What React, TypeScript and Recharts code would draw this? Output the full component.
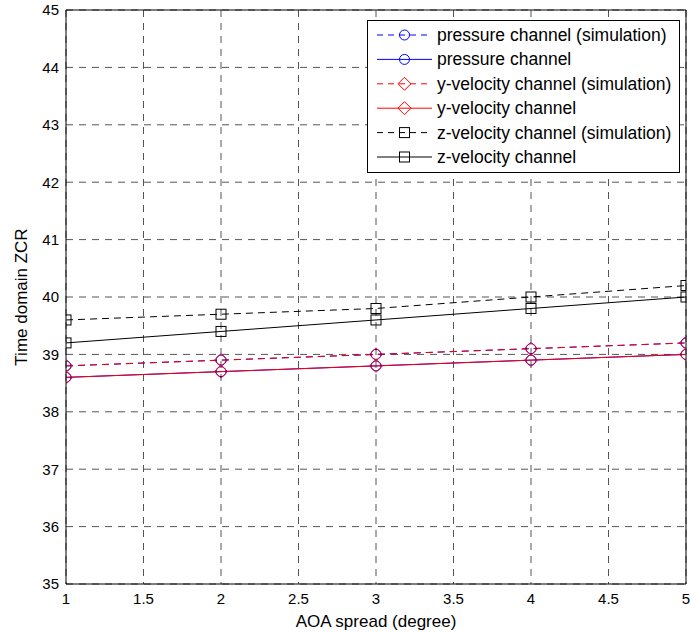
import React from 'react';
import { LineChart, Line, XAxis, YAxis, CartesianGrid, ReferenceLine } from 'recharts';

const aoaSpread = [1, 2, 3, 4, 5];
const pressureSim = [38.8, 38.9, 39.0, 39.1, 39.2];
const pressure = [38.6, 38.7, 38.8, 38.9, 39.0];
const yVelocitySim = [38.8, 38.9, 39.0, 39.1, 39.2];
const yVelocity = [38.6, 38.7, 38.8, 38.9, 39.0];
const zVelocitySim = [39.6, 39.7, 39.8, 40.0, 40.2];
const zVelocity = [39.2, 39.4, 39.6, 39.8, 40.0];

const xTicks = [1, 1.5, 2, 2.5, 3, 3.5, 4, 4.5, 5];
const yTicks = [35, 36, 37, 38, 39, 40, 41, 42, 43, 44, 45];

const seriesNames = [
  'pressure channel (simulation)',
  'pressure channel',
  'y-velocity channel (simulation)',
  'y-velocity channel',
  'z-velocity channel (simulation)',
  'z-velocity channel',
];
const seriesKeys = ['pSim', 'p', 'ySim', 'y', 'zSim', 'z'];
const seriesColors = ['#0000ff', '#0000ff', '#ff0000', '#ff0000', '#000000', '#000000'];
const seriesMarkers = ['circle', 'circle', 'diamond', 'diamond', 'square', 'square'];
const seriesDashed = [true, false, true, false, true, false];

const data = aoaSpread.map((x, i) => ({
  x,
  pSim: pressureSim[i],
  p: pressure[i],
  ySim: yVelocitySim[i],
  y: yVelocity[i],
  zSim: zVelocitySim[i],
  z: zVelocity[i],
}));

const FONT = '"Liberation Sans", Arial, Helvetica, sans-serif';
const DASH = '7 5';

function Marker({ kind, cx, cy, color }: { kind: string; cx: number; cy: number; color: string }) {
  if (kind === 'circle') {
    return <circle cx={cx} cy={cy} r={5} fill="none" stroke={color} strokeWidth={1} />;
  }
  if (kind === 'diamond') {
    const s = 6.5;
    return (
      <polygon
        points={`${cx},${cy - s} ${cx + s},${cy} ${cx},${cy + s} ${cx - s},${cy}`}
        fill="none"
        stroke={color}
        strokeWidth={1}
      />
    );
  }
  const h = 5;
  return <rect x={cx - h} y={cy - h} width={2 * h} height={2 * h} fill="none" stroke={color} strokeWidth={1} />;
}

function LegendBox() {
  const rowY = (i: number) => 15 + i * 24.4;
  return (
    <svg
      width={313}
      height={153}
      style={{ position: 'absolute', left: 367, top: 20, fontFamily: FONT }}
    >
      <rect x={0.5} y={0.5} width={312} height={152} fill="#fff" stroke="#000" strokeWidth={1} />
      {seriesNames.map((name, i) => (
        <g key={name}>
          <line
            x1={10}
            x2={65}
            y1={rowY(i)}
            y2={rowY(i)}
            stroke={seriesColors[i]}
            strokeWidth={1}
            strokeDasharray={seriesDashed[i] ? '6 5' : undefined}
          />
          <Marker kind={seriesMarkers[i]} cx={37.5} cy={rowY(i)} color={seriesColors[i]} />
          <text x={70} y={rowY(i)} dominantBaseline="central" fontSize={17.5} fill="#000">
            {name}
          </text>
        </g>
      ))}
    </svg>
  );
}

export default function App() {
  return (
    <div style={{ position: 'relative', width: 690, height: 633 }}>
      <style>{'html, body { margin: 0; padding: 0; }'}</style>
      <LineChart
        width={690}
        height={633}
        data={data}
        margin={{ top: 10, right: 4, bottom: 0, left: 0 }}
        style={{ fontFamily: FONT }}
      >
        <CartesianGrid
          stroke="#555"
          strokeDasharray="7 6"
          horizontalValues={yTicks}
          verticalValues={xTicks}
        />
        <XAxis
          dataKey="x"
          type="number"
          domain={[1, 5]}
          ticks={xTicks}
          allowDataOverflow
          interval={0}
          height={49}
          tickLine={false}
          tickSize={4}
          tickMargin={5}
          axisLine={{ stroke: '#000', strokeWidth: 1 }}
          tick={{ fill: '#000', fontSize: 15 }}
          label={{ value: 'AOA spread (degree)', position: 'insideBottom', offset: 6, fill: '#000', fontSize: 17 }}
        />
        <YAxis
          type="number"
          domain={[35, 45]}
          ticks={yTicks}
          allowDataOverflow
          interval={0}
          width={66}
          tickLine={false}
          tickSize={4}
          tickMargin={3}
          axisLine={{ stroke: '#000', strokeWidth: 1 }}
          tick={{ fill: '#000', fontSize: 15 }}
          label={{
            content: () => (
              <text
                x={21}
                y={297}
                transform="rotate(-90 21 297)"
                textAnchor="middle"
                dominantBaseline="central"
                fontSize={17}
                fill="#000"
                fontFamily={FONT}
              >
                Time domain ZCR
              </text>
            ),
          }}
        />
        <ReferenceLine y={45} stroke="#000" strokeWidth={1} />
        <ReferenceLine x={5} stroke="#000" strokeWidth={1} />
        {seriesKeys.map((k, i) => (
          <Line
            key={k}
            dataKey={k}
            type="linear"
            stroke={seriesColors[i]}
            strokeWidth={1}
            strokeDasharray={seriesDashed[i] ? DASH : undefined}
            isAnimationActive={false}
            dot={(props: any) => (
              <Marker
                key={`${k}-${props.index}`}
                kind={seriesMarkers[i]}
                cx={props.cx}
                cy={props.cy}
                color={seriesColors[i]}
              />
            )}
            activeDot={false}
          />
        ))}
      </LineChart>
      <LegendBox />
    </div>
  );
}
